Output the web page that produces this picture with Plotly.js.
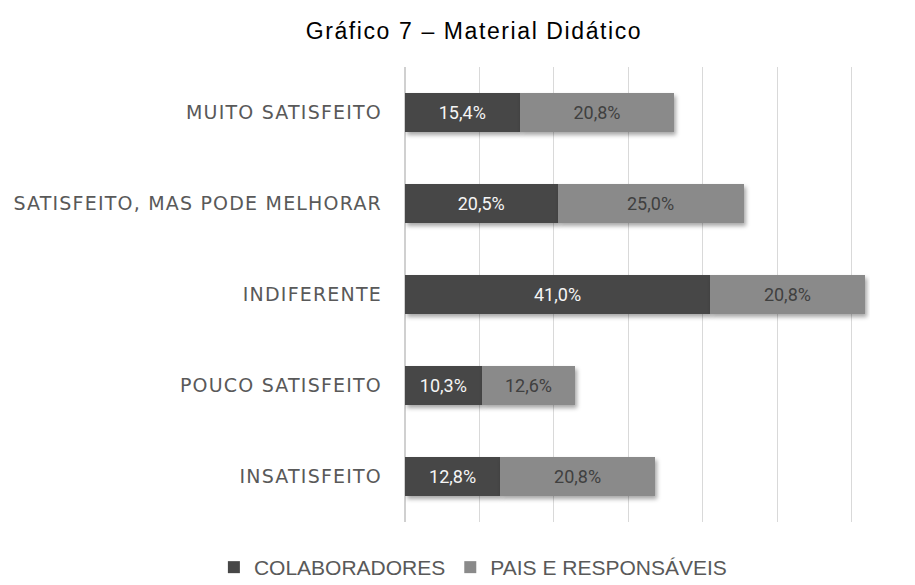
<!DOCTYPE html>
<html>
<head>
<meta charset="utf-8">
<script src="https://cdn.plot.ly/plotly-3.0.1.min.js"></script>
<style>
html,body{margin:0;padding:0;background:#fff;}
#chart{width:915px;height:585px;}
#chart .ytick text{letter-spacing:1.2px;}
#chart .gtitle{letter-spacing:1.6px;}
#chart .barlayer .point path{filter:drop-shadow(2px 3px 2px rgba(0,0,0,0.35));}
</style>
</head>
<body>
<div id="chart"></div>
<script>
const categories = ["INSATISFEITO", "POUCO SATISFEITO", "INDIFERENTE", "SATISFEITO, MAS PODE MELHORAR", "MUITO SATISFEITO"];
const colaboradores = [12.8, 10.3, 41.0, 20.5, 15.4];
const pais = [20.8, 12.6, 20.8, 25.0, 20.8];
const seriesNames = ["COLABORADORES", "PAIS E RESPONSÁVEIS"];
const gridTicks = [0, 10, 20, 30, 40, 50, 60];

const font = "'DejaVu Sans', 'Noto Sans', sans-serif";
const arial = "'Liberation Sans', Arial, sans-serif";
const roboto = "Roboto, 'Liberation Sans', sans-serif";

const traces = [
  {
    type: "bar", orientation: "h", name: seriesNames[0],
    y: categories, x: colaboradores,
    marker: {color: "#474747"},
    texttemplate: "%{x:.1f}%", textposition: "inside", insidetextanchor: "middle",
    textangle: 0, constraintext: "none",
    textfont: {family: roboto, size: 18, color: "#f5f5f5"},
    hoverinfo: "none"
  },
  {
    type: "bar", orientation: "h", name: seriesNames[1],
    y: categories, x: pais,
    marker: {color: "#8a8a8a"},
    texttemplate: "%{x:.1f}%", textposition: "inside", insidetextanchor: "middle",
    textangle: 0, constraintext: "none",
    textfont: {family: roboto, size: 18, color: "#404040"},
    hoverinfo: "none"
  }
];

const layout = {
  width: 915, height: 585,
  separators: ",.",
  barmode: "stack",
  bargap: 0.58,
  paper_bgcolor: "#ffffff", plot_bgcolor: "#ffffff",
  margin: {l: 405, r: 45, t: 67, b: 63, autoexpand: false},
  title: {
    text: "Gráfico 7 – Material Didático",
    font: {family: arial, size: 23, color: "#000000"},
    x: 0.518, xref: "container", xanchor: "center",
    y: 1 - 31/585, yref: "container", yanchor: "middle"
  },
  xaxis: {
    range: [0, 62.5],
    tickvals: gridTicks, showticklabels: false,
    showgrid: true, gridcolor: "#d9d9d9", gridwidth: 1,
    zeroline: true, zerolinecolor: "#d0d0d0", zerolinewidth: 2,
    showline: false, fixedrange: true
  },
  yaxis: {
    showgrid: false, zeroline: false, showline: false,
    ticks: "", ticklabelstandoff: 22,
    tickfont: {family: font, size: 19, color: "#595959"},
    fixedrange: true
  },
  showlegend: true,
  legend: {
    orientation: "h",
    xref: "paper", x: -0.411, xanchor: "left",
    yref: "paper", y: -0.1, yanchor: "middle",
    font: {family: arial, size: 21, color: "#595959"},
    traceorder: "normal",
    itemwidth: 30
  }
};

Plotly.newPlot("chart", traces, layout, {displayModeBar: false, staticPlot: true});
</script>
</body>
</html>
